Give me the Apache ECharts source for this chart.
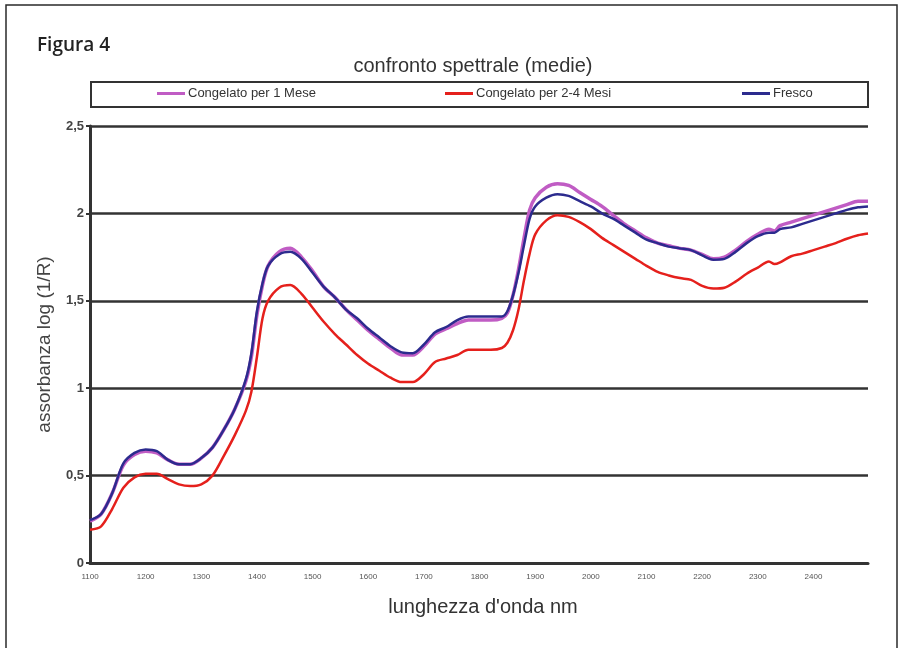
<!DOCTYPE html>
<html>
<head>
<meta charset="utf-8">
<script src="https://cdn.jsdelivr.net/npm/echarts@6/dist/echarts.min.js"></script>
<style>
  html, body { margin: 0; padding: 0; background: #ffffff; }
  #chart { width: 902px; height: 648px; }
</style>
</head>
<body>
<div id="chart"></div>
<script>
// Wavelengths (nm) at which the mean spectra are sampled
const wavelengths = [1100, 1120, 1140, 1160, 1180, 1200, 1220, 1240, 1260, 1280, 1300, 1320, 1340, 1360, 1380, 1390, 1400, 1410, 1420, 1440, 1460, 1480, 1500, 1520, 1540, 1560, 1580, 1600, 1620, 1640, 1660, 1680, 1700, 1720, 1740, 1760, 1780, 1800, 1820, 1840, 1850, 1860, 1870, 1880, 1890, 1900, 1920, 1940, 1960, 1980, 2000, 2020, 2040, 2060, 2080, 2100, 2120, 2140, 2160, 2180, 2200, 2220, 2240, 2260, 2280, 2300, 2320, 2330, 2340, 2360, 2380, 2400, 2420, 2440, 2460, 2480, 2498];

// Mean absorbance log(1/R) — frozen for 1 month
const congelato1Mese = [0.24, 0.28, 0.40, 0.56, 0.62, 0.64, 0.63, 0.59, 0.565, 0.565, 0.60, 0.66, 0.76, 0.88, 1.04, 1.18, 1.42, 1.59, 1.70, 1.78, 1.80, 1.75, 1.67, 1.58, 1.52, 1.45, 1.39, 1.33, 1.28, 1.23, 1.19, 1.19, 1.24, 1.31, 1.34, 1.37, 1.39, 1.39, 1.39, 1.40, 1.43, 1.53, 1.68, 1.86, 2.02, 2.09, 2.15, 2.17, 2.16, 2.12, 2.08, 2.04, 1.99, 1.94, 1.90, 1.86, 1.83, 1.815, 1.80, 1.79, 1.765, 1.74, 1.75, 1.79, 1.84, 1.88, 1.91, 1.90, 1.93, 1.95, 1.97, 1.99, 2.01, 2.03, 2.05, 2.07, 2.07];

// Mean absorbance log(1/R) — frozen for 2-4 months
const congelato24Mesi = [0.19, 0.21, 0.31, 0.43, 0.49, 0.51, 0.51, 0.48, 0.45, 0.44, 0.45, 0.50, 0.61, 0.73, 0.87, 0.98, 1.18, 1.40, 1.50, 1.575, 1.59, 1.54, 1.46, 1.38, 1.31, 1.25, 1.19, 1.14, 1.10, 1.06, 1.035, 1.035, 1.08, 1.15, 1.17, 1.19, 1.22, 1.22, 1.22, 1.23, 1.26, 1.33, 1.45, 1.62, 1.77, 1.88, 1.96, 1.99, 1.98, 1.95, 1.91, 1.86, 1.82, 1.78, 1.74, 1.70, 1.665, 1.645, 1.63, 1.62, 1.585, 1.57, 1.575, 1.61, 1.655, 1.69, 1.725, 1.71, 1.72, 1.755, 1.77, 1.79, 1.81, 1.83, 1.855, 1.875, 1.885];

// Mean absorbance log(1/R) — fresh
const fresco = [0.245, 0.28, 0.40, 0.57, 0.63, 0.65, 0.64, 0.59, 0.565, 0.565, 0.60, 0.66, 0.76, 0.88, 1.05, 1.20, 1.44, 1.60, 1.70, 1.765, 1.78, 1.74, 1.66, 1.58, 1.52, 1.45, 1.40, 1.34, 1.29, 1.24, 1.205, 1.20, 1.25, 1.32, 1.35, 1.39, 1.41, 1.41, 1.41, 1.41, 1.44, 1.53, 1.66, 1.82, 1.97, 2.04, 2.09, 2.11, 2.10, 2.07, 2.04, 2.00, 1.97, 1.93, 1.89, 1.85, 1.83, 1.81, 1.80, 1.79, 1.76, 1.735, 1.74, 1.78, 1.83, 1.87, 1.89, 1.89, 1.91, 1.92, 1.94, 1.96, 1.98, 2.00, 2.02, 2.035, 2.04];

const seriesNames = ['Congelato per 1 Mese', 'Congelato per 2-4 Mesi', 'Fresco'];

const pairs = arr => wavelengths.map((w, i) => [w, arr[i]]);

const chart = echarts.init(document.getElementById('chart'), null, { renderer: 'canvas' });

const FONT = '"Liberation Sans", Arial, sans-serif';

// One legend per entry so each sits at its own place inside the framed strip
const legendAt = (name, left) => ({
  data: [name],
  left: left,
  top: 87,
  icon: 'rect',
  itemWidth: 28,
  itemHeight: 3,
  itemGap: 4,
  selectedMode: false,
  textStyle: { color: '#333', fontSize: 13, fontFamily: FONT, padding: [0, 0, 0, -2] },
  padding: 0
});

chart.setOption({
  backgroundColor: '#ffffff',
  animation: false,
  textStyle: { fontFamily: FONT },
  title: [
    {
      text: 'Figura 4',
      left: 32,
      top: 31,
      textStyle: { fontFamily: '"Open Sans", "Noto Sans", sans-serif', fontWeight: 600, fontSize: 19, color: '#222' }
    },
    {
      text: 'confronto spettrale (medie)',
      left: 468,
      top: 51,
      textAlign: 'center',
      textStyle: { fontFamily: FONT, fontWeight: 'normal', fontSize: 20, color: '#333' }
    }
  ],
  legend: [
    legendAt(seriesNames[0], 157),
    legendAt(seriesNames[1], 445),
    legendAt(seriesNames[2], 742)
  ],
  graphic: [
    {
      type: 'rect',
      z: -1,
      shape: { x: 6, y: 5, width: 891, height: 680 },
      style: { fill: '#ffffff', stroke: '#2a2a2a', lineWidth: 1.5 }
    },
    {
      type: 'rect',
      z: 0,
      shape: { x: 91, y: 82, width: 777, height: 25 },
      style: { fill: '#ffffff', stroke: '#333333', lineWidth: 2 }
    }
  ],
  grid: { left: 90, right: 34, top: 126, bottom: 85, containLabel: false },
  xAxis: {
    type: 'value',
    min: 1100,
    max: 2498,
    interval: 100,
    name: "lunghezza d'onda nm",
    nameLocation: 'middle',
    nameGap: 34,
    nameTextStyle: { fontSize: 20, color: '#333', fontFamily: FONT, padding: [0, 0, 0, 8] },
    axisLine: { show: true, lineStyle: { color: '#333', width: 3 } },
    axisTick: { show: false },
    splitLine: { show: false },
    axisLabel: {
      showMaxLabel: false,
      fontSize: 8,
      color: '#555',
      margin: 10,
      formatter: v => (v % 100 === 0 ? String(v) : '')
    }
  },
  yAxis: {
    type: 'value',
    min: 0,
    max: 2.5,
    interval: 0.5,
    name: 'assorbanza log (1/R)',
    nameLocation: 'middle',
    nameGap: 36,
    nameRotate: 90,
    nameTextStyle: { fontSize: 19, color: '#444', fontFamily: FONT },
    axisLine: { show: true, lineStyle: { color: '#333', width: 3 } },
    axisTick: { show: true, length: 4, lineStyle: { color: '#333', width: 2 } },
    splitLine: { show: true, lineStyle: { color: '#333', width: 2.5 } },
    axisLabel: {
      fontSize: 13,
      fontWeight: 'bold',
      color: '#444',
      margin: 6,
      formatter: v => String(v).replace('.', ',')
    }
  },
  series: [
    {
      name: seriesNames[0],
      type: 'line',
      data: pairs(congelato1Mese),
      smooth: 0.3,
      showSymbol: false,
      color: '#c05cc4',
      lineStyle: { width: 3.5, color: '#c05cc4' },
      z: 2
    },
    {
      name: seriesNames[1],
      type: 'line',
      data: pairs(congelato24Mesi),
      smooth: 0.3,
      showSymbol: false,
      color: '#e5201c',
      lineStyle: { width: 2.5, color: '#e5201c' },
      z: 3
    },
    {
      name: seriesNames[2],
      type: 'line',
      data: pairs(fresco),
      smooth: 0.3,
      showSymbol: false,
      color: '#2c2b8e',
      lineStyle: { width: 2.5, color: '#2c2b8e' },
      z: 4
    }
  ]
});
</script>
</body>
</html>
